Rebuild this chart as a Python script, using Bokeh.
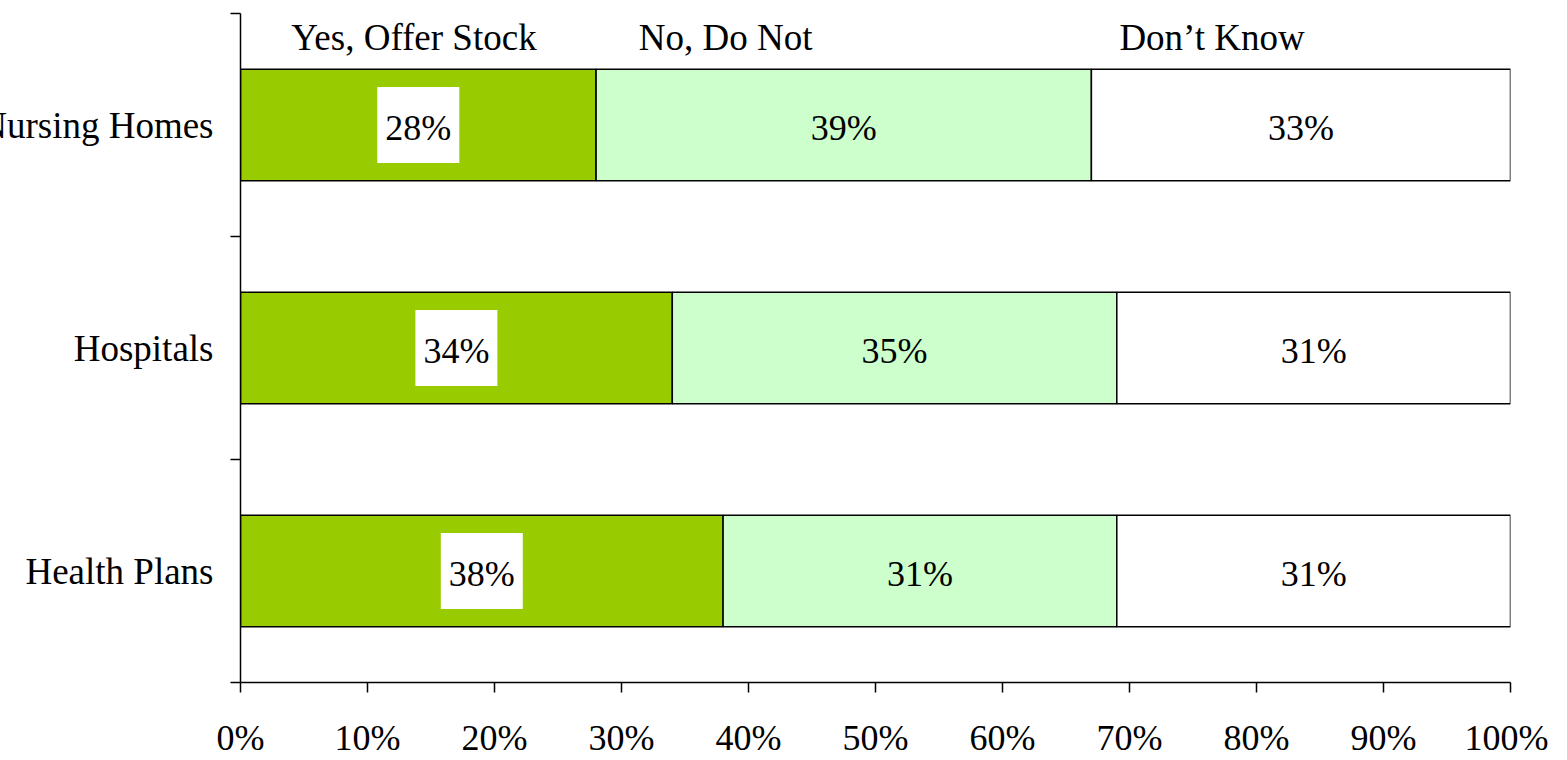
from bokeh.plotting import figure
from bokeh.models import ColumnDataSource, FixedTicker, Range1d
from bokeh.core.properties import value
from bokeh.embed import file_html
from bokeh.resources import INLINE

# ---- data ----
categories = ["Health Plans", "Hospitals", "Nursing Homes"]
yes_offer = [38, 34, 28]
no_do_not = [31, 35, 39]
dont_know = [31, 31, 33]
series_names = ["Yes, Offer Stock", "No, Do Not", "Don\u2019t Know"]
x_ticks = [0, 10, 20, 30, 40, 50, 60, 70, 80, 90, 100]
x_tick_labels = ["0%", "10%", "20%", "30%", "40%", "50%", "60%", "70%", "80%", "90%", "100%"]

# ---- style ----
FONT = "Liberation Serif"
FS = "36px"
FS_CAT = "37px"
colors = ["#99CC00", "#CCFFCC", "#FFFFFF"]
header_x = [13.66, 38.2, 76.5]
header_y = 2.893

ypos = [i + 0.5 for i in range(len(categories))]

p = figure(frame_width=1270, frame_height=669, x_range=Range1d(0, 100), y_range=Range1d(0, 3),
           output_backend="svg", toolbar_location=None,
           min_border_left=270, min_border_right=38, min_border_top=13, min_border_bottom=78)
p.margin = (0, 0, 0, -30)
p.outline_line_color = None
p.grid.visible = False
p.background_fill_color = "white"
p.border_fill_color = "white"

# x axis
p.xaxis.ticker = FixedTicker(ticks=x_ticks)
p.xaxis.major_label_overrides = {t: l for t, l in zip(x_ticks, x_tick_labels)}
p.xaxis.minor_tick_line_color = None
p.xaxis.major_tick_out = 10
p.xaxis.major_tick_in = 0
p.xaxis.major_label_text_font = FONT
p.xaxis.major_label_text_font_size = FS
p.xaxis.major_label_text_color = "black"
p.xaxis.major_label_standoff = 25
p.xaxis.axis_line_width = 1.5
p.xaxis.axis_line_color = "black"
p.xaxis.major_tick_line_width = 1.5
p.xaxis.major_tick_line_color = "black"

# y axis: labels at category centres, ticks at band boundaries
p.yaxis.ticker = FixedTicker(ticks=ypos, minor_ticks=[0, 1, 2, 3])
p.yaxis.major_label_overrides = {y: c for y, c in zip(ypos, categories)}
p.yaxis.major_tick_out = 0
p.yaxis.major_tick_in = 0
p.yaxis.major_tick_line_color = None
p.yaxis.minor_tick_out = 10
p.yaxis.minor_tick_in = 0
p.yaxis.minor_tick_line_width = 1.5
p.yaxis.minor_tick_line_color = "black"
p.yaxis.major_label_standoff = 17
p.yaxis.major_label_text_font = FONT
p.yaxis.major_label_text_font_size = FS_CAT
p.yaxis.major_label_text_color = "black"
p.yaxis.axis_line_width = 1.5
p.yaxis.axis_line_color = "black"

src = ColumnDataSource(dict(y=ypos, yes=yes_offer, no=no_do_not, dk=dont_know))
p.hbar_stack(["yes", "no", "dk"], y="y", height=0.5, fill_color=colors,
             line_color="black", line_width=1.5, source=src)

# value labels
lx, ly, lt = [], [], []
for i in range(len(categories)):
    left = 0
    for vals in (yes_offer, no_do_not, dont_know):
        v = vals[i]
        lx.append(left + v / 2)
        ly.append(ypos[i])
        lt.append(f"{v}%")
        left += v

box_src = ColumnDataSource(dict(x=[v / 2 for v in yes_offer], y=ypos))
p.rect(x="x", y="y", width=82, height=76, width_units="screen", height_units="screen",
       fill_color="white", line_color=None, source=box_src)

lab_src = ColumnDataSource(dict(x=lx, y=ly, t=lt))
p.text(x="x", y="y", text="t", source=lab_src, text_font=value(FONT), text_font_size=FS,
       text_align="center", text_baseline="middle", text_color="black", y_offset=3)

# series headers
hdr_src = ColumnDataSource(dict(x=header_x, y=[header_y] * 3, t=series_names))
p.text(x="x", y="y", text="t", source=hdr_src, text_font=value(FONT), text_font_size=FS_CAT,
       text_align="center", text_baseline="middle", text_color="black")

open("out.html", "w").write(file_html(p, INLINE))
